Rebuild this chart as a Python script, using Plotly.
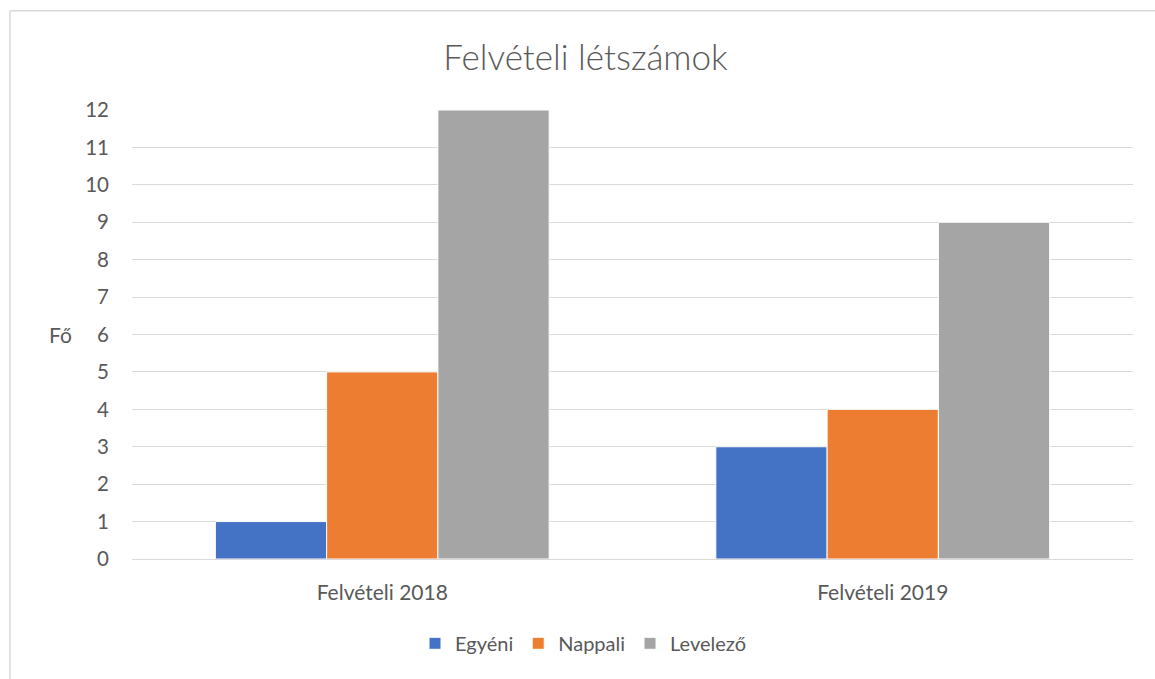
import plotly.graph_objects as go

categories = ["Felvételi 2018", "Felvételi 2019"]
series_names = ["Egyéni", "Nappali", "Levelező"]
egyeni = [1, 3]
nappali = [5, 4]
levelezo = [12, 9]
colors = ["#4472C4", "#ED7D31", "#A5A5A5"]
y_ticks = list(range(0, 13))

W, H = 1155, 679
plot_left, plot_right, plot_top, plot_bottom = 132, 1133, 109.5, 559.5
L, T = plot_left, plot_top
R, B = W - plot_right, H - plot_bottom
pw, ph = plot_right - plot_left, plot_bottom - plot_top

def px_x(px):
    return (px - plot_left) / pw

def px_y(py):
    return (plot_bottom - py) / ph

FONT = "Lato, Carlito, Calibri, sans-serif"
TXT = "#595959"
GRID = "#D9D9D9"

fig = go.Figure()
for name, vals, col in zip(series_names, [egyeni, nappali, levelezo], colors):
    fig.add_trace(go.Bar(
        x=categories, y=vals, name=name,
        marker=dict(color=col, line=dict(color="white", width=1)),
    ))

fig.update_layout(
    width=W, height=H,
    margin=dict(l=L, r=R, t=T, b=B, autoexpand=False),
    paper_bgcolor="white", plot_bgcolor="white",
    barmode="group", bargap=0.333, bargroupgap=0,
    font=dict(family=FONT, color=TXT, size=20),
    title=dict(
        text="Felvételi létszámok",
        font=dict(family="Lato Light, Lato, sans-serif", size=35, color=TXT, weight=300),
        xref="paper", x=px_x(585.5), xanchor="center",
        yref="container", y=1 - 58 / H, yanchor="middle",
    ),
    xaxis=dict(
        showgrid=False, showline=True, linecolor=GRID, linewidth=1,
        ticks="", tickfont=dict(size=21, color=TXT), ticklabelstandoff=15,
    ),
    yaxis=dict(
        range=[0, 12], tickvals=y_ticks, ticktext=[str(v) for v in y_ticks],
        showgrid=True, gridcolor=GRID, gridwidth=1, zeroline=False,
        showline=False, ticks="", tickfont=dict(size=20.5, color=TXT),
        ticklabelstandoff=22,
    ),
    legend=dict(
        orientation="h", xref="paper", x=px_x(583), xanchor="center",
        yref="paper", y=px_y(644), yanchor="middle",
        font=dict(size=20, color=TXT), itemwidth=30, traceorder="normal",
    ),
    showlegend=True,
)

fig.add_annotation(
    text="Fő", xref="paper", yref="y", x=px_x(60.5), y=6,
    xanchor="center", yanchor="middle", showarrow=False,
    font=dict(size=21, color=TXT, family=FONT),
)

# chart border (top and left edges visible)
fig.add_shape(type="line", xref="paper", yref="paper",
              x0=px_x(10), x1=px_x(1200), y0=px_y(10), y1=px_y(10),
              line=dict(color=GRID, width=1.5))
fig.add_shape(type="line", xref="paper", yref="paper",
              x0=px_x(10), x1=px_x(10), y0=px_y(10), y1=px_y(720),
              line=dict(color=GRID, width=1.5))

fig.write_html(
    "out.html",
    config={"displayModeBar": False},
    post_script="document.body.style.margin='0';document.body.style.overflow='hidden';",
)
